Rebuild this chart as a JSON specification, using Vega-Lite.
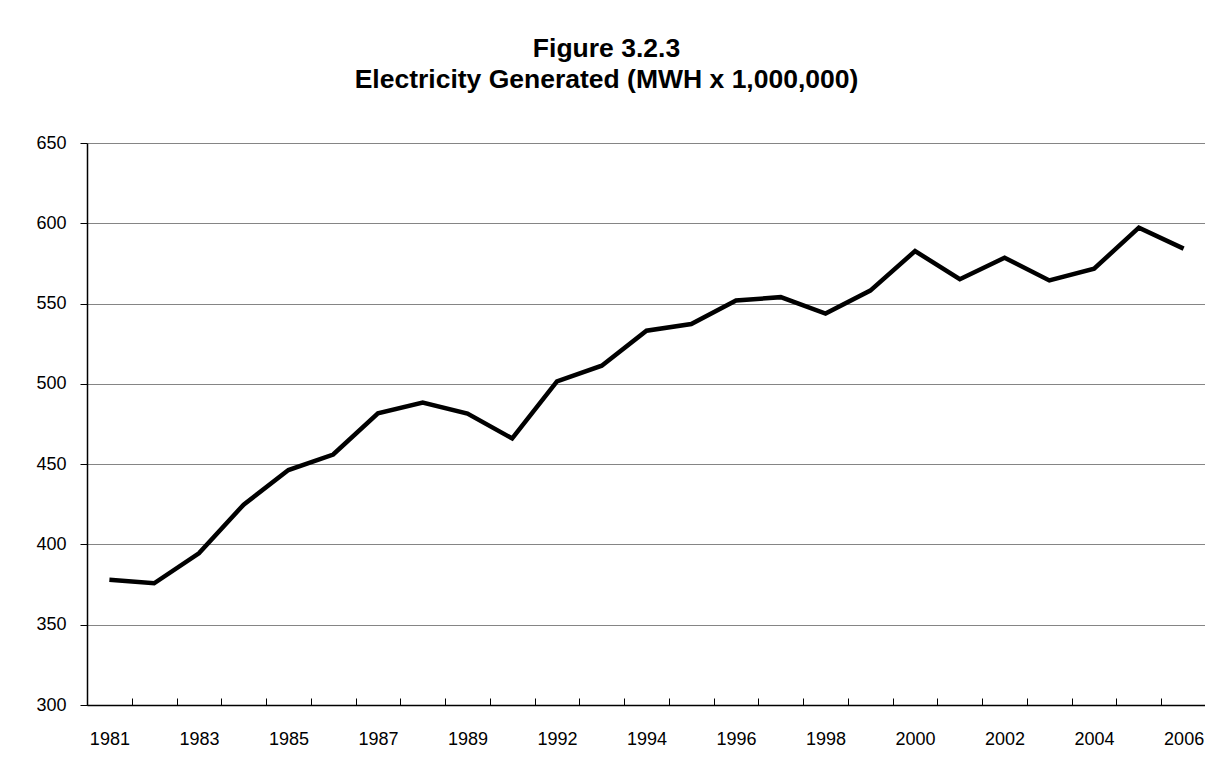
{
  "$schema": "https://vega.github.io/schema/vega-lite/v6.json",
  "autosize": {"type": "none"},
  "padding": {"left": 87, "top": 143, "right": 0, "bottom": 53},
  "width": 1119,
  "height": 562,
  "background": "white",
  "title": {
    "text": ["Figure 3.2.3", "Electricity Generated (MWH x 1,000,000)"],
    "font": "Liberation Sans",
    "fontSize": 26.5,
    "fontWeight": "bold",
    "color": "black",
    "lineHeight": 31.7,
    "anchor": "middle",
    "frame": "group",
    "dx": -40,
    "offset": 40
  },
  "config": {
    "view": {"stroke": null},
    "font": "Liberation Sans"
  },
  "data": {
    "values": [
      {"year": "1981", "mwh": 378.0},
      {"year": "1982", "mwh": 375.8},
      {"year": "1983", "mwh": 394.5},
      {"year": "1984", "mwh": 424.8},
      {"year": "1985", "mwh": 446.3},
      {"year": "1986", "mwh": 456.0},
      {"year": "1987", "mwh": 481.7},
      {"year": "1988", "mwh": 488.3},
      {"year": "1989", "mwh": 481.5},
      {"year": "1990", "mwh": 466.0},
      {"year": "1992", "mwh": 501.5},
      {"year": "1993", "mwh": 511.3},
      {"year": "1994", "mwh": 533.1},
      {"year": "1995", "mwh": 537.3},
      {"year": "1996", "mwh": 551.9},
      {"year": "1997", "mwh": 554.0},
      {"year": "1998", "mwh": 543.8},
      {"year": "1999", "mwh": 558.1},
      {"year": "2000", "mwh": 582.7},
      {"year": "2001", "mwh": 565.2},
      {"year": "2002", "mwh": 578.5},
      {"year": "2003", "mwh": 564.4},
      {"year": "2004", "mwh": 571.7},
      {"year": "2005", "mwh": 597.3},
      {"year": "2006", "mwh": 584.2}
    ]
  },
  "mark": {"type": "line", "color": "black", "strokeWidth": 4.5, "strokeJoin": "miter", "strokeCap": "butt"},
  "encoding": {
    "x": {
      "field": "year",
      "type": "ordinal",
      "sort": "ascending",
      "scale": {"type": "band", "paddingInner": 0, "paddingOuter": 0},
      "axis": {
        "title": null,
        "labelAngle": 0,
        "labelFont": "Liberation Sans",
        "labelFontSize": 18,
        "labelColor": "black",
        "labelExpr": "((toNumber(datum.value) <= 1989 && toNumber(datum.value) % 2 == 1) || (toNumber(datum.value) >= 1992 && toNumber(datum.value) % 2 == 0)) ? datum.label : ''",
        "labelOverlap": false,
        "tickBand": "extent",
        "tickSize": -7,
        "tickColor": "black",
        "tickWidth": 1,
        "labelPadding": 32,
        "domainColor": "black",
        "domainWidth": 1.5,
        "grid": false
      }
    },
    "y": {
      "field": "mwh",
      "type": "quantitative",
      "scale": {"domain": [300, 650], "nice": false, "zero": false},
      "axis": {
        "title": null,
        "values": [300, 350, 400, 450, 500, 550, 600, 650],
        "labelFont": "Liberation Sans",
        "labelFontSize": 18,
        "labelColor": "black",
        "labelPadding": 14,
        "tickSize": 7,
        "tickColor": "black",
        "tickWidth": 1,
        "domainColor": "black",
        "domainWidth": 1.5,
        "grid": true,
        "gridColor": "#858585",
        "gridWidth": 1,
        "gridOpacity": 1
      }
    }
  }
}
